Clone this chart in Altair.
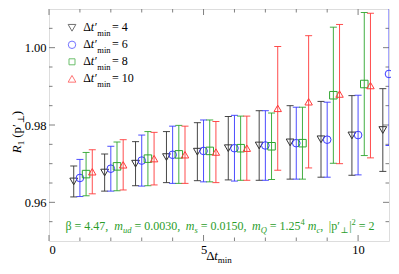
import altair as alt
import pandas as pd

# ---------------- data ----------------
dt = [1, 2, 3, 4, 5, 6, 7, 8, 9, 10, 11]
series = ["4", "6", "8", "10"]

r4 = [0.9654, 0.9677, 0.9700, 0.9717, 0.9731, 0.9740, 0.9747, 0.9755, 0.9763, 0.9773, 0.9787]
e4 = [0.0040, 0.0048, 0.0057, 0.0066, 0.0075, 0.0082, 0.0090, 0.0095, 0.0098, 0.0103, 0.0107]
r6 = [0.9663, 0.9687, 0.9708, 0.9723, 0.9733, 0.9740, 0.9747, 0.9753, 0.9762, 0.9774, 0.9932]
e6 = [0.0048, 0.0058, 0.0066, 0.0074, 0.0080, 0.0085, 0.0090, 0.0093, 0.0097, 0.0103, 0.0185]
r8 = [0.9673, 0.9693, 0.9713, 0.9724, 0.9733, 0.9740, 0.9745, 0.9753, 0.9877, 0.9906]
e8 = [0.0056, 0.0063, 0.0070, 0.0075, 0.0080, 0.0083, 0.0086, 0.0093, 0.0176, 0.0185]
r10 = [0.9679, 0.9697, 0.9713, 0.9723, 0.9730, 0.9740, 0.9843, 0.9860, 0.9880, 0.9902]
e10 = [0.0057, 0.0065, 0.0068, 0.0074, 0.0079, 0.0083, 0.0160, 0.0171, 0.0180, 0.0187]

x_major = [0, 5, 10]
x_minor = [1, 2, 3, 4, 6, 7, 8, 9]
y_major = [0.96, 0.98, 1.00]
y_minor = [0.955, 0.965, 0.970, 0.975, 0.985, 0.990, 0.995, 1.005]

# ---------------- style ----------------
W, H = 340, 232
SERIF = "Liberation Serif, DejaVu Serif, serif"
FRAME = "#808080"
OFFSET = {"4": -0.2, "6": 0.0, "8": 0.2, "10": 0.4}
COLORS = ["#333333", "#3a3aff", "#2fa52f", "#ff3a3a"]
SHAPES = ["triangle-down", "circle", "square", "triangle-up"]
SIZES = [60, 55, 36, 60]

rows = []
for name, vals, errs in [("4", r4, e4), ("6", r6, e6), ("8", r8, e8), ("10", r10, e10)]:
    for d, v, e in zip(dt, vals, errs):
        rows.append({"series": name, "x": d + OFFSET[name], "r": v, "lo": v - e, "hi": v + e})
df = pd.DataFrame(rows)

xs = alt.Scale(domain=[0, 11], nice=False, zero=False)
ys = alt.Scale(domain=[0.95, 1.01], nice=False, zero=False)
xaxis = alt.Axis(values=x_major, format="d", ticks=False, domain=False, grid=False,
                 labelFont=SERIF, labelFontSize=12.5, labelColor="black",
                 labelPadding=2, title=None)
yaxis = alt.Axis(values=y_major, format=".2f", ticks=False, domain=False, grid=False,
                 labelFont=SERIF, labelFontSize=12.5, labelColor="black",
                 labelPadding=3, title=None)
col = alt.Color("series:N", scale=alt.Scale(domain=series, range=COLORS), legend=None)
shp = alt.Shape("series:N", scale=alt.Scale(domain=series, range=SHAPES), legend=None)
siz = alt.Size("series:N", scale=alt.Scale(domain=series, range=SIZES), legend=None)

base = alt.Chart(df)
bars = base.mark_rule(strokeWidth=1, opacity=0.9, clip=True).encode(
    x=alt.X("x:Q", scale=xs, axis=xaxis), y=alt.Y("lo:Q", scale=ys, axis=yaxis), y2="hi:Q", color=col)
cap_lo = base.mark_tick(orient="horizontal", size=7, thickness=1, opacity=0.9, clip=True).encode(
    x=alt.X("x:Q", scale=xs, axis=xaxis), y=alt.Y("lo:Q", scale=ys, axis=yaxis), color=col)
cap_hi = base.mark_tick(orient="horizontal", size=7, thickness=1, opacity=0.9, clip=True).encode(
    x=alt.X("x:Q", scale=xs, axis=xaxis), y=alt.Y("hi:Q", scale=ys, axis=yaxis), color=col)
pts = base.mark_point(filled=False, strokeWidth=1, opacity=1).encode(
    x=alt.X("x:Q", scale=xs, axis=xaxis), y=alt.Y("r:Q", scale=ys, axis=yaxis),
    color=col, shape=shp, size=siz)

# ---------------- inward ticks on all four sides ----------------
tick_layers = []
for vals, ln in [(x_major, 6), (x_minor, 3.5)]:
    d = pd.DataFrame({"v": vals})
    tick_layers.append(alt.Chart(d).mark_rule(color=FRAME, strokeWidth=1).encode(
        x=alt.X("v:Q", scale=xs, axis=xaxis), y=alt.value(H), y2=alt.value(H - ln)))
    tick_layers.append(alt.Chart(d).mark_rule(color=FRAME, strokeWidth=1).encode(
        x=alt.X("v:Q", scale=xs, axis=xaxis), y=alt.value(0), y2=alt.value(ln)))
for vals, ln in [(y_major, 6), (y_minor, 3.5)]:
    d = pd.DataFrame({"v": vals})
    tick_layers.append(alt.Chart(d).mark_rule(color=FRAME, strokeWidth=1).encode(
        y=alt.Y("v:Q", scale=ys, axis=yaxis), x=alt.value(0), x2=alt.value(ln)))
    tick_layers.append(alt.Chart(d).mark_rule(color=FRAME, strokeWidth=1).encode(
        y=alt.Y("v:Q", scale=ys, axis=yaxis), x=alt.value(W), x2=alt.value(W - ln)))

# ---------------- rich text helpers ----------------
REG = {" ": .25, "=": .564, ".": .25, ",": .25, "(": .333, ")": .333, "|": .2,
       "p": .5, "m": .778, "i": .278, "n": .5, "β": .55, "Δ": .612, "′": .28, "⊥": .9}
ITA = {"m": .722, "u": .5, "d": .5, "s": .389, "Q": .722, "c": .444, "t": .278,
       "R": .611, "′": .28}


def width(text, size, italic):
    tab = ITA if italic else REG
    return sum(tab.get(c, REG.get(c, .5)) for c in text) * size


def text_layer(text, px, py, size, italic, color, angle=0):
    kw = dict(align="left", baseline="alphabetic", font=SERIF, fontSize=size,
              fontStyle="italic" if italic else "normal", color=color)
    if angle:
        kw["angle"] = angle
    return alt.Chart(pd.DataFrame({"t": [text]})).mark_text(**kw).encode(
        x=alt.value(px), y=alt.value(py), text="t:N")


def run(segs, x0, y0, color="black"):
    out, x = [], x0
    for s in segs:
        if s[0] == "gap":
            x += s[1]
            continue
        text, size, it, dy = s
        out.append(text_layer(text, x, y0 + dy, size, it, color))
        x += width(text, size, it)
    return out, x


def run_vertical(segs, xb, yc, color="black"):
    total = sum(s[1] if s[0] == "gap" else width(s[0], s[1], s[2]) for s in segs)
    y = yc + total / 2
    out = []
    for s in segs:
        if s[0] == "gap":
            y -= s[1]
            continue
        text, size, it, dx = s
        out.append(text_layer(text, xb + dx, y, size, it, color, angle=270))
        y -= width(text, size, it)
    return out


text_layers = []

# legend
legend_labels = ["4", "6", "8", "10"]
for i, lab in enumerate(legend_labels):
    yb = 22.3 + 17 * i
    text_layers.append(
        alt.Chart(pd.DataFrame({"series": [series[i]]})).mark_point(
            filled=False, strokeWidth=1, shape=SHAPES[i], size=SIZES[i], color=COLORS[i]
        ).encode(x=alt.value(23), y=alt.value(yb - 3.5)))
    segs = [("Δ", 12, False, 0), ("t′", 12, True, 0), ("min", 8.5, False, 5),
            ("gap", 1.5), ("= " + lab, 12, False, 0)]
    lay, _ = run(segs, 34.3, yb)
    text_layers += lay

# annotation
GREEN = "#2a9d2a"
ann = [("β = 4.47,", 12, False, 0), ("gap", 5.5),
       ("m", 12, True, 0), ("ud", 8.5, True, 3), ("gap", 3),
       ("= 0.0030,", 12, False, 0), ("gap", 5.5),
       ("m", 12, True, 0), ("s", 8.5, True, 3), ("gap", 3),
       ("= 0.0150,", 12, False, 0), ("gap", 5.5),
       ("m", 12, True, 0), ("Q", 8.5, True, 3), ("gap", 3),
       ("= 1.25", 12, False, 0), ("4", 8.5, False, -5), ("gap", 3),
       ("m", 12, True, 0), ("c", 8.5, True, 3), (",", 12, False, 0), ("gap", 5.5),
       ("|p′", 12, False, 0), ("⊥", 8.5, False, 3), ("gap", 1), ("|", 12, False, 0),
       ("2", 8.5, False, -5), ("gap", 3), ("= 2", 12, False, 0)]
lay, _ = run(ann, 16.5, H - 11.3, GREEN)
text_layers += lay

# x title
xt = [("Δ", 13, False, 0), ("t", 13, True, 0), ("min", 9, False, 3)]
xt_w = sum(width(s[0], s[1], s[2]) for s in xt)
lay, _ = run(xt, W / 2 - xt_w / 2, H + 19)
text_layers += lay

# y title (rotated)
yt = [("R", 13, True, 0), ("1", 9, False, 3), ("gap", 3), ("(", 13, False, 0),
      ("p", 13, False, 0), ("′", 13, False, 0), ("⊥", 9, False, 3), (")", 13, False, 0)]
text_layers += run_vertical(yt, -28, 123)

chart = alt.layer(*tick_layers, bars, cap_lo, cap_hi, pts, *text_layers).properties(
    width=W, height=H,
    padding={"left": 41, "top": 1, "right": 2, "bottom": 25},
    autosize=alt.AutoSizeParams(type="none"),
).configure_view(stroke=FRAME, strokeWidth=1.5).configure(background="white")

chart.save("out.html", embed_options={"renderer": "svg", "actions": False})
